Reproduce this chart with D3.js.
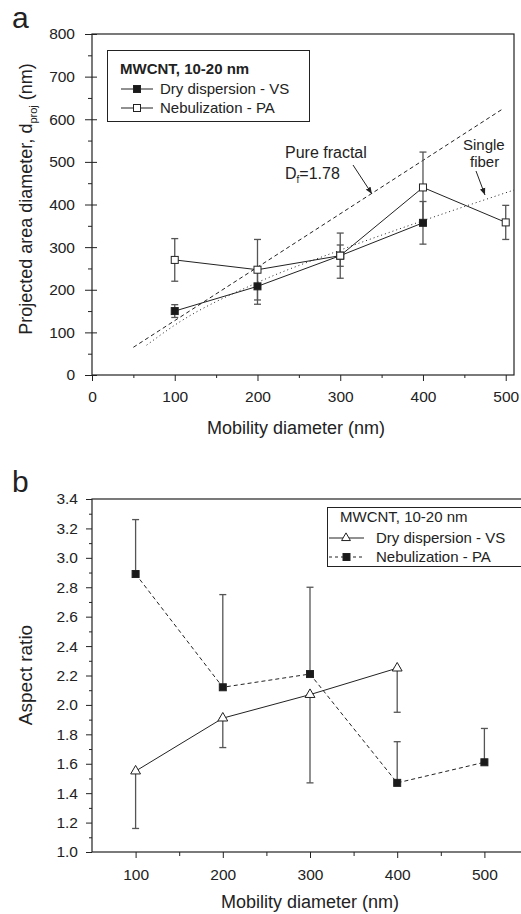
<!DOCTYPE html>
<html>
<head>
<meta charset="utf-8">
<script src="https://cdn.jsdelivr.net/npm/d3@7"></script>
<style>
  body { margin: 0; background: #fff; }
  svg { display: block; }
  text { font-family: "Liberation Sans", Arial, sans-serif; fill: #222; }
</style>
</head>
<body>
<svg id="chart" width="521" height="914"></svg>
<script>
// ---- panel a : projected area diameter ----
var dryA_x   = [100, 200, 300, 400];
var dryA     = [150, 208, 280, 357];
var dryA_err = [15, 42, 25, 50];
var nebA_x   = [100, 200, 300, 400, 500];
var nebA     = [270, 247, 280, 440, 358];
var nebA_err = [50, 71, 53, 83, 40];
var fractalX = [50, 497];
var fractalY = [65, 625];
var fiberX   = [66, 100, 200, 300, 400, 510];
var fiberY   = [70, 117, 217, 293, 362, 434];
var ticksAx  = [0, 100, 200, 300, 400, 500];
var ticksAy  = [0, 100, 200, 300, 400, 500, 600, 700, 800];

// ---- panel b : aspect ratio ----
var vsB_x    = [100, 200, 300, 400];
var vsB      = [1.55, 1.91, 2.07, 2.25];
var vsB_low  = [1.16, 1.71, 1.47, 1.95];
var paB_x    = [100, 200, 300, 400, 500];
var paB      = [2.89, 2.12, 2.21, 1.47, 1.61];
var paB_high = [3.26, 2.75, 2.80, 1.75, 1.84];
var ticksBx  = [100, 200, 300, 400, 500];
var ticksBy  = [1.0, 1.2, 1.4, 1.6, 1.8, 2.0, 2.2, 2.4, 2.6, 2.8, 3.0, 3.2, 3.4];

var legendTitle = "MWCNT, 10-20 nm";
var svg = d3.select("#chart");

var defs = svg.append("defs");
defs.append("marker").attr("id", "arrow").attr("viewBox", "0 0 10 10")
    .attr("refX", 10).attr("refY", 5).attr("markerWidth", 7).attr("markerHeight", 7)
    .attr("orient", "auto")
  .append("path").attr("d", "M0,1L10,5L0,9z").attr("fill", "#222");

function pairs(xs, ys){ return xs.map(function(v, i){ return [v, ys[i]]; }); }

function styleAxis(g, fs){
    g.select(".domain").remove();
    g.selectAll(".tick line").attr("stroke", "#222");
    g.selectAll(".tick text").attr("font-size", fs).attr("fill", "#222")
        .attr("font-family", "Liberation Sans, Arial, sans-serif");
}

function squares(g, data, x, y, fill){
    g.selectAll(null).data(data).enter().append("rect")
        .attr("x", function(d){ return x(d[0]) - 3.5; })
        .attr("y", function(d){ return y(d[1]) - 3.5; })
        .attr("width", 7).attr("height", 7)
        .attr("fill", fill).attr("stroke", "#222").attr("stroke-width", 1);
}

function triangles(g, data, x, y){
    g.selectAll(null).data(data).enter().append("path")
        .attr("d", d3.symbol().type(d3.symbolTriangle).size(42))
        .attr("transform", function(d){ return "translate(" + x(d[0]) + "," + y(d[1]) + ")"; })
        .attr("fill", "#fff").attr("stroke", "#222").attr("stroke-width", 1);
}

function errBar(g, xv, lo, hi, x, y){
    var xp = x(xv);
    g.append("line").attr("x1", xp).attr("x2", xp).attr("y1", y(lo)).attr("y2", y(hi))
        .attr("stroke", "#555").attr("stroke-width", 1.3);
    [lo, hi].forEach(function(v){
        g.append("line").attr("x1", xp - 3.5).attr("x2", xp + 3.5).attr("y1", y(v)).attr("y2", y(v))
            .attr("stroke", "#555").attr("stroke-width", 1.3);
    });
}

// ================= PANEL A =================
(function(){
    var x = d3.scaleLinear().domain([0, 510]).range([92, 514]);
    var y = d3.scaleLinear().domain([0, 800]).range([375, 34]);
    var g = svg.append("g");

    g.append("text").attr("x", 12).attr("y", 28).attr("font-size", 30).text("a");

    g.append("g").attr("transform", "translate(0,375)")
        .call(d3.axisBottom(x).tickValues(ticksAx).tickSize(6).tickPadding(10).tickFormat(d3.format("d")))
        .call(styleAxis, 15.5);
    g.append("g").attr("transform", "translate(0,375)")
        .call(d3.axisBottom(x).tickValues(ticksAx.slice(0, -1).map(function(v){ return v + 50; })).tickSize(3).tickFormat(""))
        .call(styleAxis, 15);
    g.append("g").attr("transform", "translate(92,0)")
        .call(d3.axisLeft(y).tickValues(ticksAy).tickSize(7).tickPadding(10).tickFormat(d3.format("d")))
        .call(styleAxis, 15.5);
    g.append("g").attr("transform", "translate(92,0)")
        .call(d3.axisRight(y).tickValues(ticksAy).tickSize(5).tickFormat(""))
        .call(styleAxis, 15);
    g.append("g").attr("transform", "translate(92,0)")
        .call(d3.axisLeft(y).tickValues(ticksAy.slice(0, -1).map(function(v){ return v + 50; })).tickSize(4).tickFormat(""))
        .call(styleAxis, 15);

    g.append("rect").attr("x", x(0)).attr("y", y(800))
        .attr("width", x(510) - x(0)).attr("height", y(0) - y(800))
        .attr("fill", "none").attr("stroke", "#222").attr("stroke-width", 1.2);

    var line = d3.line().x(function(d){ return x(d[0]); }).y(function(d){ return y(d[1]); });
    var curve = d3.line().curve(d3.curveMonotoneX).x(function(d){ return x(d[0]); }).y(function(d){ return y(d[1]); });

    g.append("path").attr("d", line(pairs(fractalX, fractalY)))
        .attr("fill", "none").attr("stroke", "#222").attr("stroke-width", 1).attr("stroke-dasharray", "4,3");
    g.append("path").attr("d", curve(pairs(fiberX, fiberY)))
        .attr("fill", "none").attr("stroke", "#222").attr("stroke-width", 1).attr("stroke-dasharray", "1,3");

    g.append("path").attr("d", line(pairs(dryA_x, dryA))).attr("fill", "none").attr("stroke", "#222").attr("stroke-width", 1);
    g.append("path").attr("d", line(pairs(nebA_x, nebA))).attr("fill", "none").attr("stroke", "#222").attr("stroke-width", 1);

    dryA_x.forEach(function(v, i){ errBar(g, v, dryA[i] - dryA_err[i], dryA[i] + dryA_err[i], x, y); });
    nebA_x.forEach(function(v, i){ errBar(g, v, nebA[i] - nebA_err[i], nebA[i] + nebA_err[i], x, y); });

    squares(g, pairs(dryA_x, dryA), x, y, "#1a1a1a");
    squares(g, pairs(nebA_x, nebA), x, y, "#fff");

    // annotations
    var t1 = g.append("text").attr("x", 285).attr("y", 158).attr("font-size", 16);
    t1.text("Pure fractal");
    var t2 = g.append("text").attr("x", 285).attr("y", 179).attr("font-size", 16);
    t2.append("tspan").text("D");
    t2.append("tspan").attr("font-size", 10).attr("dy", 4).text("f");
    t2.append("tspan").attr("dy", -4).text("=1.78");
    g.append("line").attr("x1", 353).attr("y1", 165).attr("x2", 372).attr("y2", 194)
        .attr("stroke", "#222").attr("stroke-width", 1).attr("marker-end", "url(#arrow)");

    g.append("text").attr("x", 463).attr("y", 150).attr("font-size", 15).text("Single");
    g.append("text").attr("x", 470).attr("y", 167).attr("font-size", 15).text("fiber");
    g.append("line").attr("x1", 476).attr("y1", 171).attr("x2", 485).attr("y2", 195)
        .attr("stroke", "#222").attr("stroke-width", 1).attr("marker-end", "url(#arrow)");

    // legend
    var lg = g.append("g");
    lg.append("rect").attr("x", 107.5).attr("y", 50.5).attr("width", 202).attr("height", 71)
        .attr("fill", "#fff").attr("stroke", "#222").attr("stroke-width", 1);
    lg.append("text").attr("x", 120).attr("y", 74).attr("font-size", 15).attr("font-weight", "bold").text(legendTitle);
    [["Dry dispersion - VS", "#1a1a1a", 94], ["Nebulization - PA", "#fff", 113]].forEach(function(e){
        var cy = e[2] - 5;
        lg.append("line").attr("x1", 121).attr("x2", 153).attr("y1", cy).attr("y2", cy).attr("stroke", "#222");
        lg.append("rect").attr("x", 133.5).attr("y", cy - 3.5).attr("width", 7).attr("height", 7)
            .attr("fill", e[1]).attr("stroke", "#222");
        lg.append("text").attr("x", 160).attr("y", e[2]).attr("font-size", 15).text(e[0]);
    });

    // axis titles
    var yl = g.append("text").attr("transform", "translate(32,199) rotate(-90)")
        .attr("text-anchor", "middle").attr("font-size", 18);
    yl.append("tspan").text("Projected area diameter, d");
    yl.append("tspan").attr("font-size", 11).attr("dy", 5).text("proj");
    yl.append("tspan").attr("dy", -5).text(" (nm)");
    g.append("text").attr("x", 296).attr("y", 434).attr("text-anchor", "middle").attr("font-size", 18)
        .text("Mobility diameter (nm)");
})();

// ================= PANEL B =================
(function(){
    var x = d3.scaleLinear().domain([50, 550]).range([92, 528]);
    var y = d3.scaleLinear().domain([1.0, 3.4]).range([852, 499]);
    var g = svg.append("g");

    g.append("text").attr("x", 12).attr("y", 492).attr("font-size", 30).text("b");

    g.append("g").attr("transform", "translate(0,852)")
        .call(d3.axisBottom(x).tickValues(ticksBx).tickSize(6).tickPadding(11).tickFormat(d3.format("d")))
        .call(styleAxis, 15.5);
    g.append("g").attr("transform", "translate(0,852)")
        .call(d3.axisBottom(x).tickValues(ticksBx.map(function(v){ return v + 50; })).tickSize(4).tickFormat(""))
        .call(styleAxis, 15);
    g.append("g").attr("transform", "translate(92,0)")
        .call(d3.axisLeft(y).tickValues(ticksBy).tickSize(6).tickPadding(8).tickFormat(d3.format(".1f")))
        .call(styleAxis, 15.5);
    g.append("g").attr("transform", "translate(92,0)")
        .call(d3.axisLeft(y).tickValues(ticksBy.slice(0, -1).map(function(v){ return v + 0.1; })).tickSize(3).tickFormat(""))
        .call(styleAxis, 15);

    g.append("rect").attr("x", x(50)).attr("y", y(3.4))
        .attr("width", x(550) - x(50)).attr("height", y(1.0) - y(3.4))
        .attr("fill", "none").attr("stroke", "#222").attr("stroke-width", 1.2);

    var line = d3.line().x(function(d){ return x(d[0]); }).y(function(d){ return y(d[1]); });

    g.append("path").attr("d", line(pairs(vsB_x, vsB))).attr("fill", "none").attr("stroke", "#222").attr("stroke-width", 1);
    g.append("path").attr("d", line(pairs(paB_x, paB))).attr("fill", "none").attr("stroke", "#222")
        .attr("stroke-width", 1).attr("stroke-dasharray", "4,3");

    vsB_x.forEach(function(v, i){ errBar(g, v, vsB_low[i], vsB[i], x, y); });
    paB_x.forEach(function(v, i){ errBar(g, v, paB[i], paB_high[i], x, y); });

    triangles(g, pairs(vsB_x, vsB), x, y);
    squares(g, pairs(paB_x, paB), x, y, "#1a1a1a");

    // legend
    var lg = g.append("g");
    lg.append("rect").attr("x", 327.5).attr("y", 507.5).attr("width", 210).attr("height", 59)
        .attr("fill", "#fff").attr("stroke", "#222").attr("stroke-width", 1);
    lg.append("text").attr("x", 340).attr("y", 522).attr("font-size", 15).text(legendTitle);
    var cy1 = 538, cy2 = 557;
    lg.append("line").attr("x1", 329).attr("x2", 364).attr("y1", cy1).attr("y2", cy1).attr("stroke", "#222");
    lg.append("path").attr("d", d3.symbol().type(d3.symbolTriangle).size(34))
        .attr("transform", "translate(346," + cy1 + ")").attr("fill", "#fff").attr("stroke", "#222");
    lg.append("text").attr("x", 376).attr("y", cy1 + 5).attr("font-size", 15).text("Dry dispersion - VS");
    lg.append("line").attr("x1", 329).attr("x2", 364).attr("y1", cy2).attr("y2", cy2)
        .attr("stroke", "#222").attr("stroke-dasharray", "3,3");
    lg.append("rect").attr("x", 343).attr("y", cy2 - 3.5).attr("width", 7).attr("height", 7)
        .attr("fill", "#1a1a1a").attr("stroke", "#222");
    lg.append("text").attr("x", 376).attr("y", cy2 + 5).attr("font-size", 15).text("Nebulization - PA");

    g.append("text").attr("transform", "translate(32,675) rotate(-90)")
        .attr("text-anchor", "middle").attr("font-size", 19).text("Aspect ratio");
    g.append("text").attr("x", 310).attr("y", 908).attr("text-anchor", "middle").attr("font-size", 18)
        .text("Mobility diameter (nm)");
})();
</script>
</body>
</html>
